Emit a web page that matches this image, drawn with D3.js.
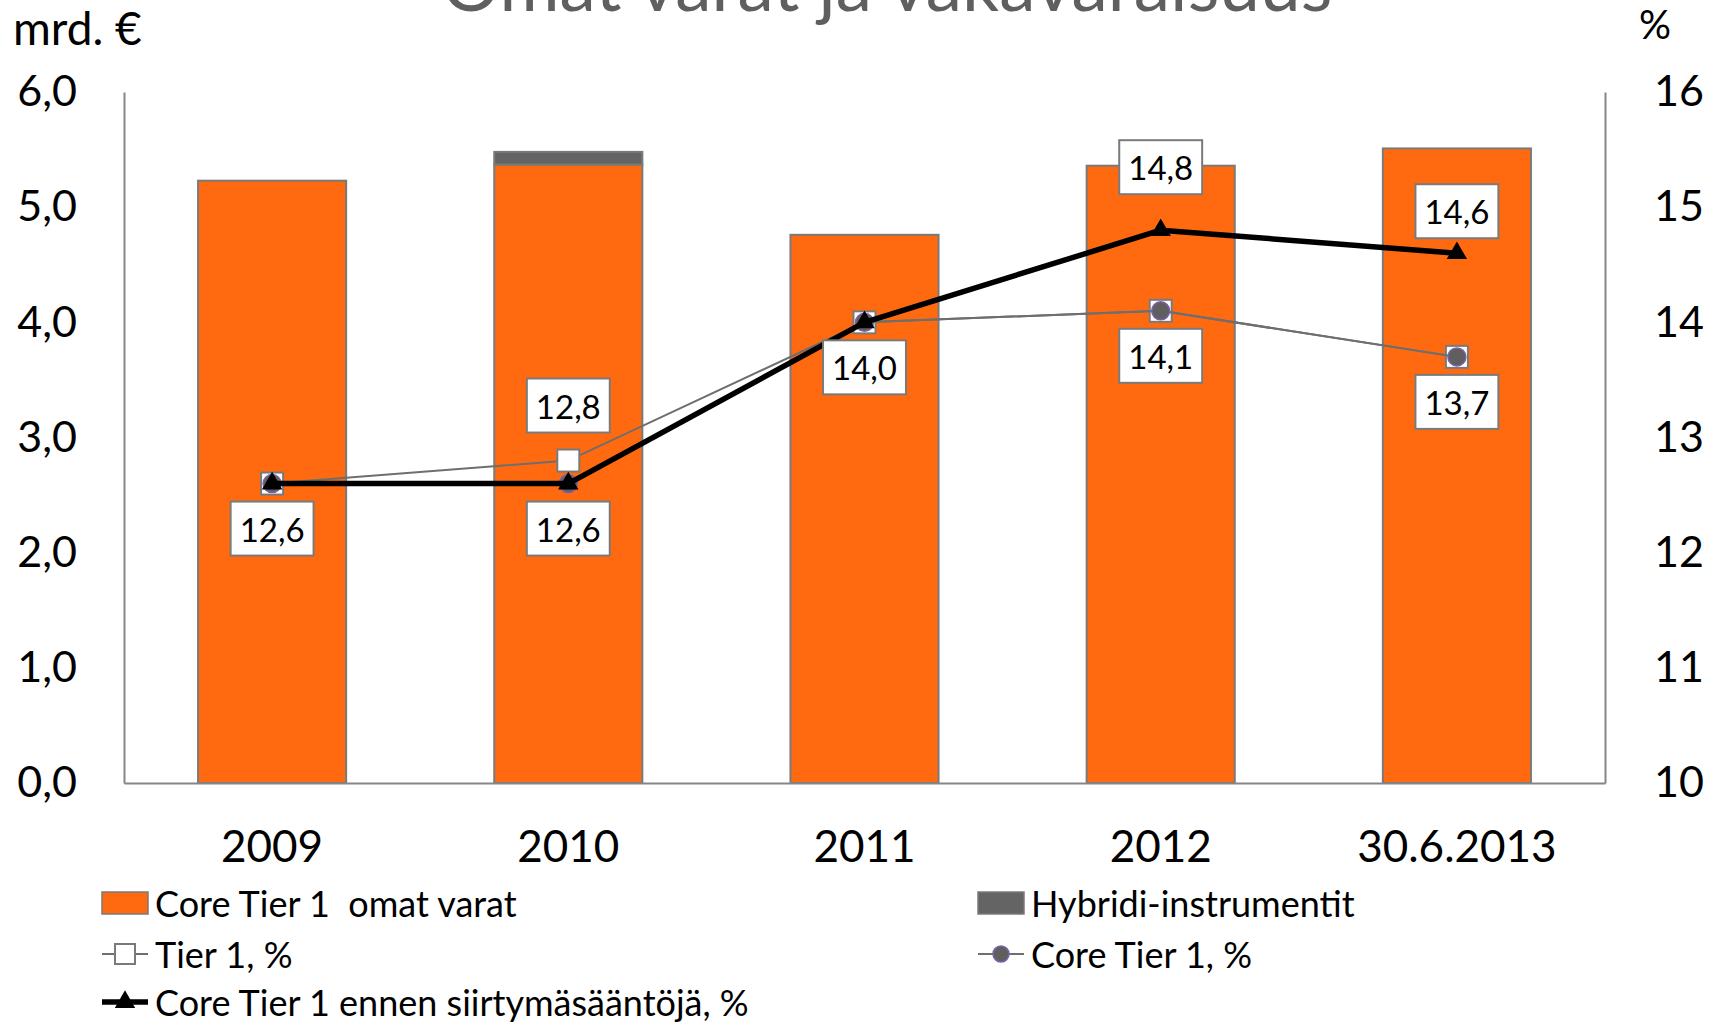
<!DOCTYPE html>
<html lang="fi">
<head>
<meta charset="utf-8">
<title>Omat varat ja vakavaraisuus</title>
<script src="https://cdn.jsdelivr.net/npm/d3@7"></script>
<style>
  html, body { margin: 0; padding: 0; background: #fff; }
  svg { display: block; font-family: Lato, "Open Sans", sans-serif; }
  .keep-space { white-space: pre; }
</style>
</head>
<body>
<svg id="chart" width="1721" height="1025"></svg>
<script>
// ---- data ----
const categories = ["2009", "2010", "2011", "2012", "30.6.2013"];
const coreTier1Capital = [5.23, 5.37, 4.76, 5.36, 5.51];   // mrd. €
const hybridInstruments = [0, 0.11, 0, 0, 0];              // mrd. €
const tier1Pct = [12.6, 12.8, 14.0, 14.1, 13.7];
const coreTier1Pct = [12.6, 12.6, 14.0, 14.1, 13.7];
const coreTier1BeforePct = [12.6, 12.6, 14.0, 14.8, 14.6];
const leftTicks = [0, 1, 2, 3, 4, 5, 6];
const rightTicks = [10, 11, 12, 13, 14, 15, 16];

// which points carry a value box, and on which side of the marker
const tier1Labels = [null, "above", null, null, null];
const coreTier1Labels = ["below", "below", "below", "below", "below"];
const coreTier1BeforeLabels = [null, null, null, "above", "above"];

// ---- layout ----
const W = 1721, H = 1025;
const plot = { left: 124, right: 1605, top: 92, bottom: 783 };
const ORANGE = "#ff6a10", HYBRID = "#646464", AXIS = "#868686", LINEGRAY = "#6e6e6e";
const fmt = v => d3.format(".1f")(v).replace(".", ",");
const labelBelow = 45, labelAbove = 52;
const aboveNudge = { "2010": -3, "2012": -11, "30.6.2013": 10 };

const svg = d3.select("#chart");
svg.append("rect").attr("width", W).attr("height", H).attr("fill", "#fff");

const x = d3.scaleBand().domain(categories)
  .range([plot.left, plot.right]).paddingInner(0.5).paddingOuter(0.25);
const yL = d3.scaleLinear().domain([0, 6]).range([plot.bottom, plot.top]);
const yR = d3.scaleLinear().domain([10, 16]).range([plot.bottom, plot.top]);
const cx = c => x(c) + x.bandwidth() / 2;

// title (runs off the top edge)
svg.append("text").attr("x", 887).attr("y", 11).attr("text-anchor", "middle")
  .attr("font-size", 73).attr("fill", "#5f5f5f").text("Omat varat ja vakavaraisuus");

// axis unit captions
svg.append("text").attr("x", 13).attr("y", 27).attr("dominant-baseline", "central")
  .attr("font-size", 46).attr("fill", "#000").text("mrd. €");
svg.append("text").attr("x", 1639).attr("y", 24).attr("dominant-baseline", "central")
  .attr("font-size", 40).attr("fill", "#000").text("%");

// ---- bars (stacked) ----
const stack = categories.map((c, i) => ({ c, core: coreTier1Capital[i], hyb: hybridInstruments[i] }));
const bars = svg.append("g");
bars.selectAll("rect.core").data(stack).join("rect").attr("class", "core")
  .attr("x", d => x(d.c)).attr("width", x.bandwidth())
  .attr("y", d => yL(d.core)).attr("height", d => yL(0) - yL(d.core))
  .attr("fill", ORANGE).attr("stroke", "#7a7a7a").attr("stroke-width", 2);
bars.selectAll("rect.hyb").data(stack.filter(d => d.hyb > 0)).join("rect").attr("class", "hyb")
  .attr("x", d => x(d.c)).attr("width", x.bandwidth())
  .attr("y", d => yL(d.core + d.hyb)).attr("height", d => yL(d.core) - yL(d.core + d.hyb))
  .attr("fill", HYBRID).attr("stroke", "#7a7a7a").attr("stroke-width", 2);

// ---- axes ----
const axL = d3.axisLeft(yL).tickValues(leftTicks).tickSize(0).tickPadding(47).tickFormat(fmt);
const axR = d3.axisRight(yR).tickValues(rightTicks).tickSize(0).tickPadding(49).tickFormat(d3.format("d"));
const axB = d3.axisBottom(x).tickSize(0).tickPadding(48);

function styleAxis(g) {
  g.select(".domain").attr("stroke", AXIS).attr("stroke-width", 2);
  g.selectAll("text").attr("font-size", 43).attr("fill", "#000").attr("font-family", "Lato, sans-serif");
}
svg.append("g").attr("transform", `translate(${plot.left},0)`).call(axL).call(styleAxis);
svg.append("g").attr("transform", `translate(${plot.right},0)`).call(axR).call(styleAxis)
  .selectAll("text").attr("dy", "0.32em");
svg.append("g").attr("transform", `translate(0,${plot.bottom})`).call(axB).call(styleAxis)
  .selectAll("text").attr("dy", "0.71em").attr("font-size", 44);

// ---- lines ----
function series(values) { return categories.map((c, i) => ({ c, v: values[i] })); }
const line = d3.line().x(d => cx(d.c)).y(d => yR(d.v));
const lines = svg.append("g");

// Tier 1
lines.append("path").datum(series(tier1Pct)).attr("d", line)
  .attr("fill", "none").attr("stroke", LINEGRAY).attr("stroke-width", 2);
lines.selectAll("rect.t1").data(series(tier1Pct)).join("rect").attr("class", "t1")
  .attr("x", d => cx(d.c) - 11).attr("y", d => yR(d.v) - 11)
  .attr("width", 22).attr("height", 22)
  .attr("fill", "#fff").attr("stroke", "#7a7a7a").attr("stroke-width", 2);

// Core Tier 1
lines.append("path").datum(series(coreTier1Pct)).attr("d", line)
  .attr("fill", "none").attr("stroke", LINEGRAY).attr("stroke-width", 2);
lines.selectAll("circle.ct1").data(series(coreTier1Pct)).join("circle").attr("class", "ct1")
  .attr("cx", d => cx(d.c)).attr("cy", d => yR(d.v)).attr("r", 9)
  .attr("fill", "#5f5f5f").attr("stroke", "#7b62a8").attr("stroke-width", 1.5);

// Core Tier 1 before transitional rules
const tri = d3.symbol().type(d3.symbolTriangle).size(180);
lines.append("path").datum(series(coreTier1BeforePct)).attr("d", line)
  .attr("fill", "none").attr("stroke", "#000").attr("stroke-width", 5.5).attr("stroke-linejoin", "round");
lines.selectAll("path.tri").data(series(coreTier1BeforePct)).join("path").attr("class", "tri")
  .attr("d", tri).attr("transform", d => `translate(${cx(d.c)},${yR(d.v)})`).attr("fill", "#000");

// ---- value boxes ----
const labelData = [];
[[tier1Pct, tier1Labels], [coreTier1Pct, coreTier1Labels], [coreTier1BeforePct, coreTier1BeforeLabels]]
  .forEach(([vals, sides]) => categories.forEach((c, i) => {
    if (sides[i]) labelData.push({ c, v: vals[i], side: sides[i] });
  }));

const lbl = svg.append("g").selectAll("g").data(labelData).join("g")
  .attr("transform", d => {
    const dy = d.side === "below" ? labelBelow : -(labelAbove - (aboveNudge[d.c] || 0));
    return `translate(${cx(d.c)},${yR(d.v) + dy})`;
  });
lbl.append("rect");
lbl.append("text").attr("text-anchor", "middle").attr("dominant-baseline", "central")
  .attr("font-size", 33).attr("fill", "#000").text(d => fmt(d.v));
lbl.each(function () {
  const g = d3.select(this);
  const w = g.select("text").node().getComputedTextLength() + 18;
  g.select("rect").attr("x", -w / 2).attr("y", -27).attr("width", w).attr("height", 54)
    .attr("fill", "#fff").attr("stroke", "#7a7a7a").attr("stroke-width", 2);
});

// ---- legend ----
const legendItems = [
  { name: "Core Tier 1  omat varat", kind: "bar", color: ORANGE, col: 0, row: 0 },
  { name: "Hybridi-instrumentit", kind: "bar", color: HYBRID, col: 1, row: 0 },
  { name: "Tier 1, %", kind: "square", col: 0, row: 1 },
  { name: "Core Tier 1, %", kind: "circle", col: 1, row: 1 },
  { name: "Core Tier 1 ennen siirtymäsääntöjä, %", kind: "triangle", col: 0, row: 2 }
];
const colX = [102, 978], rowY = [903, 954, 1002];
const leg = svg.append("g").selectAll("g").data(legendItems).join("g")
  .attr("transform", d => `translate(${colX[d.col]},${rowY[d.row]})`);
leg.each(function (d) {
  const g = d3.select(this);
  if (d.kind === "bar") {
    g.append("rect").attr("x", 0).attr("y", -11).attr("width", 46).attr("height", 22)
      .attr("fill", d.color).attr("stroke", "#7a7a7a").attr("stroke-width", 1.5);
  } else {
    const black = d.kind === "triangle";
    g.append("line").attr("x1", 0).attr("x2", 46).attr("y1", 0).attr("y2", 0)
      .attr("stroke", black ? "#000" : LINEGRAY).attr("stroke-width", black ? 5.5 : 2);
    if (d.kind === "square") {
      g.append("rect").attr("x", 13).attr("y", -10).attr("width", 20).attr("height", 20)
        .attr("fill", "#fff").attr("stroke", "#7a7a7a").attr("stroke-width", 2);
    } else if (d.kind === "circle") {
      g.append("circle").attr("cx", 23).attr("cy", 0).attr("r", 8)
        .attr("fill", "#5f5f5f").attr("stroke", "#7b62a8").attr("stroke-width", 1.5);
    } else {
      g.append("path").attr("d", tri).attr("transform", "translate(23,0)").attr("fill", "#000");
    }
  }
  g.append("text").attr("class", "keep-space").attr("x", 53).attr("y", 0)
    .attr("dominant-baseline", "central")
    .attr("font-size", 36).attr("fill", "#000").text(d.name);
});
</script>
</body>
</html>
